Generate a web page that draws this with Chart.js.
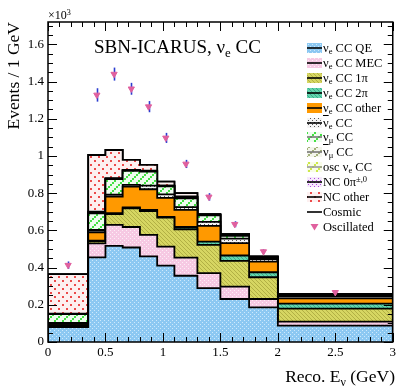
<!DOCTYPE html>
<html><head><meta charset="utf-8">
<script src="https://cdn.jsdelivr.net/npm/chart.js@4.4.0/dist/chart.umd.min.js"></script>
<style>
html,body{margin:0;padding:0;background:#fff;}
#wrap{position:relative;width:399px;height:388px;font-family:"Liberation Serif","Times New Roman",serif;color:#000;overflow:hidden;}
#c{position:absolute;left:0;top:0;}
.t{position:absolute;white-space:nowrap;line-height:1;}
.t sub{font-size:68%;position:relative;top:0.32em;vertical-align:baseline;line-height:0;}
.t sup{font-size:68%;position:relative;top:-0.45em;vertical-align:baseline;line-height:0;}
.ob{text-decoration:overline;}
.leg{font-size:12.5px;left:323px;}
</style></head>
<body><div id="wrap">
<canvas id="c" width="399" height="388"></canvas>
<div class="t" style="left:48px;top:9px;font-size:12px;">×10<sup>3</sup></div>
<div class="t" style="left:94px;top:37px;font-size:19px;">SBN-ICARUS, ν<sub>e</sub> CC</div>
<div class="t" id="ytitle" style="left:0;top:0;width:140px;text-align:right;font-size:17.5px;transform-origin:left top;transform:translate(5px,162px) rotate(-90deg);">Events / 1 GeV</div>
<div class="t" style="right:4px;top:368px;font-size:17.5px;">Reco. E<sub>ν</sub> (GeV)</div>
<div id="legend"></div>
</div>
<script>
// ---- data (events per 1 GeV, in units of 10^3) ----
const binEdges   = [0, 0.35, 0.5, 0.65, 0.8, 0.95, 1.1, 1.3, 1.5, 1.75, 2, 3];
const nueCCQE    = [0.080, 0.455, 0.517, 0.508, 0.460, 0.410, 0.356, 0.290, 0.231, 0.186, 0.088];
const nueCCMEC   = [0.005, 0.075, 0.113, 0.110, 0.116, 0.103, 0.098, 0.080, 0.067, 0.045, 0.022];
const nueCC1pi   = [0.004, 0.012, 0.057, 0.100, 0.128, 0.155, 0.152, 0.152, 0.138, 0.117, 0.069];
const nueCC2pi   = [0.001, 0.003, 0.005, 0.005, 0.006, 0.005, 0.012, 0.018, 0.029, 0.027, 0.027];
const nueCCOther = [0.008, 0.045, 0.090, 0.112, 0.111, 0.102, 0.092, 0.084, 0.066, 0.057, 0.028];
const nuebarCC   = [0.004, 0.012, 0.010, 0.010, 0.020, 0.018, 0.015, 0.022, 0.025, 0.014, 0.012];
const numuCC     = [0.048, 0.090, 0.083, 0.075, 0.075, 0.044, 0.047, 0.035, 0.015, 0.006, 0.004];
const numubarCC  = [0.001, 0.004, 0.003, 0.003, 0.003, 0.002, 0.006, 0.002, 0.004, 0.002, 0.002];
const oscNueCC   = [0.000, 0.002, 0.001, 0.001, 0.001, 0.001, 0.002, 0.001, 0.002, 0.002, 0.002];
const nc0pi      = [0.001, 0.002, 0.001, 0.001, 0.001, 0.001, 0.002, 0.001, 0.001, 0.001, 0.001];
const ncOther    = [0.213, 0.305, 0.152, 0.054, 0.031, 0.021, 0.018, 0.002, 0.002, 0.003, 0.004];
const cosmic     = [0, 0, 0, 0, 0, 0, 0, 0, 0, 0, 0];
const oscillated    = [0.413, 1.328, 1.440, 1.361, 1.265, 1.097, 0.957, 0.780, 0.633, 0.486, 0.267];
const oscillatedErr = [0.020, 0.036, 0.035, 0.032, 0.030, 0.027, 0.022, 0.020, 0.016, 0.012, 0.006];
const yTickValues = [0, 0.2, 0.4, 0.6, 0.8, 1.0, 1.2, 1.4, 1.6];
const xTickValues = [0, 0.5, 1, 1.5, 2, 2.5, 3];
const legendLabels = [
  'ν<sub>e</sub> CC QE', 'ν<sub>e</sub> CC MEC', 'ν<sub>e</sub> CC 1π', 'ν<sub>e</sub> CC 2π',
  'ν<sub>e</sub> CC other', '<span class="ob">ν</span><sub>e</sub> CC', 'ν<sub>μ</sub> CC',
  '<span class="ob">ν</span><sub>μ</sub> CC', 'osc ν<sub>e</sub> CC', 'NC 0π<sup>±,0</sup>',
  'NC other', 'Cosmic', 'Oscillated'
];

// ---- fill patterns (ROOT-like) ----
const mainCtx = document.getElementById('c').getContext('2d');
function pat(w, h, bg, fn) {
  const c = document.createElement('canvas'); c.width = w; c.height = h;
  const g = c.getContext('2d');
  g.fillStyle = bg; g.fillRect(0, 0, w, h);
  fn(g);
  return mainCtx.createPattern(c, 'repeat');
}
function px(g, col, pts, s) { g.fillStyle = col; pts.forEach(p => g.fillRect(p[0], p[1], s || 1, s || 1)); }
const diag8 = [[6,0],[4,2],[2,4],[0,6]];
const fills = [
  pat(4, 4, '#8cc8f2', g => px(g, '#cde9fc', [[0,0],[2,2]])),
  pat(4, 4, '#f6c9e3', g => px(g, '#fdeef6', [[0,0],[2,2]])),
  pat(4, 4, '#d6d662', g => px(g, '#b2b044', [[0,0],[1,1],[2,2],[3,3]])),
  pat(4, 4, '#62d4ad', g => px(g, '#3aa98a', [[0,0],[1,1],[2,2],[3,3]])),
  '#ff9900',
  pat(4, 4, '#f4f4f4', g => px(g, '#555555', [[0,0],[2,2]])),
  pat(8, 8, '#effcef', g => px(g, '#44e044', diag8, 2)),
  pat(8, 8, '#f3f5ec', g => px(g, '#a3b07a', diag8, 2)),
  pat(8, 8, '#f8fce8', g => px(g, '#cde84a', diag8, 2)),
  pat(4, 4, '#f6eafc', g => px(g, '#b048e0', [[0,0],[2,2]], 1)),
  pat(8, 8, '#fdf0f0', g => px(g, '#ec4a4a', [[6,0],[2,4]], 2)),
];
const legendLine = ['#000','#000','#000','#000','#000','#000','#777','#777','#999','#000','#000'];

// ---- build stacked datasets from the component arrays ----
const components = [nueCCQE, nueCCMEC, nueCC1pi, nueCC2pi, nueCCOther, nuebarCC,
                    numuCC, numubarCC, oscNueCC, nc0pi, ncOther, cosmic];
const nBins = binEdges.length - 1;
let cum = new Array(nBins).fill(0);
const datasets = components.map((arr, k) => {
  cum = cum.map((c, i) => c + arr[i]);
  const pts = [{x: binEdges[0], y: 0}];
  cum.forEach((c, i) => { pts.push({x: binEdges[i], y: c}); pts.push({x: binEdges[i + 1], y: c}); });
  pts.push({x: binEdges[nBins], y: 0});
  const isCosmic = k === components.length - 1;
  return {
    type: 'line', data: pts, parsing: false,
    fill: isCosmic ? false : (k === 0 ? 'origin' : '-1'),
    backgroundColor: isCosmic ? 'transparent' : fills[k],
    borderColor: '#000', borderWidth: 1.8, pointRadius: 0, tension: 0, order: 1
  };
});
const centers = binEdges.slice(0, -1).map((e, i) => (e + binEdges[i + 1]) / 2);
const OSC_INDEX = datasets.length;
datasets.push({
  type: 'line', showLine: false, parsing: false,
  data: centers.map((c, i) => ({x: c, y: oscillated[i]})),
  pointStyle: 'triangle', pointRotation: 180, pointRadius: 3.6,
  backgroundColor: '#e0609e', borderColor: '#e0609e', borderWidth: 1, order: -1
});

const fmt = v => String(Math.round(v * 100) / 100);

const decor = {
  id: 'decor',
  beforeDatasetDraw(chart, args) {
    if (args.index !== OSC_INDEX) return;
    const {ctx, scales: {x, y}} = chart;
    ctx.save(); ctx.strokeStyle = '#2b3cd0'; ctx.lineWidth = 1.6;
    centers.forEach((c, i) => {
      const xp = Math.round(x.getPixelForValue(c)) + 0.5;
      ctx.beginPath();
      ctx.moveTo(xp, y.getPixelForValue(oscillated[i] - oscillatedErr[i]));
      ctx.lineTo(xp, y.getPixelForValue(oscillated[i] + oscillatedErr[i]));
      ctx.stroke();
    });
    ctx.restore();
  },
  afterDraw(chart) {
    const {ctx, chartArea: a, scales: {x, y}} = chart;
    ctx.save();
    ctx.strokeStyle = '#000'; ctx.lineWidth = 1;
    const line = (x1, y1, x2, y2) => { ctx.beginPath(); ctx.moveTo(x1, y1); ctx.lineTo(x2, y2); ctx.stroke(); };
    for (let j = 0; j < yTickValues.length; j++) {
      for (let m = 0; m < 4; m++) {
        const v = yTickValues[j] + m * 0.05;
        if (v > y.max) continue;
        const p = Math.round(y.getPixelForValue(v)) + 0.5;
        const L = m === 0 ? 9 : 5;
        line(a.left, p, a.left + L, p); line(a.right, p, a.right - L, p);
      }
    }
    for (let j = 0; j < xTickValues.length; j++) {
      for (let m = 0; m < 5; m++) {
        const v = xTickValues[j] + m * 0.1;
        if (v > x.max + 1e-9) continue;
        const p = Math.round(x.getPixelForValue(v)) + 0.5;
        const L = m === 0 ? 9 : 5;
        line(p, a.bottom, p, a.bottom - L); line(p, a.top, p, a.top + L);
      }
    }
    ctx.lineWidth = 1.5;
    ctx.strokeRect(a.left, a.top, a.right - a.left, a.bottom - a.top);
    const x0 = 307, w = 15, h = 10;
    for (let i = 0; i < legendLabels.length; i++) {
      const cy = Math.round(48 + 14.9 * i);
      if (i < fills.length) {
        ctx.fillStyle = fills[i]; ctx.fillRect(x0, cy - h / 2, w, h);
        ctx.strokeStyle = legendLine[i]; ctx.lineWidth = 1.6; line(x0, cy, x0 + w, cy);
      } else if (i === fills.length) {
        ctx.strokeStyle = '#000'; ctx.lineWidth = 1.6; line(x0, cy, x0 + w, cy);
      } else {
        ctx.fillStyle = '#e0609e';
        ctx.beginPath(); ctx.moveTo(x0 + 3.5, cy - 3); ctx.lineTo(x0 + 11.5, cy - 3); ctx.lineTo(x0 + 7.5, cy + 3.5); ctx.closePath(); ctx.fill();
      }
    }
    ctx.restore();
  }
};

new Chart(document.getElementById('c'), {
  data: {datasets},
  options: {
    responsive: false, animation: false, devicePixelRatio: 1,
    layout: {padding: {top: 22, right: 4, left: 0, bottom: 0}},
    plugins: {legend: {display: false}, tooltip: {enabled: false}},
    scales: {
      x: {
        type: 'linear', min: 0, max: 3,
        grid: {display: false, drawTicks: false}, border: {display: false},
        afterBuildTicks: s => { s.ticks = xTickValues.map(v => ({value: v})); },
        afterFit: s => { s.height = 46; },
        ticks: {callback: fmt, color: '#000', padding: 3, maxRotation: 0, autoSkip: false,
                font: {family: 'Liberation Serif', size: 13}}
      },
      y: {
        type: 'linear', min: 0, max: 1.72,
        grid: {display: false, drawTicks: false}, border: {display: false},
        afterBuildTicks: s => { s.ticks = yTickValues.map(v => ({value: v})); },
        afterFit: s => { s.width = 48; },
        ticks: {callback: fmt, color: '#000', padding: 4, autoSkip: false,
                font: {family: 'Liberation Serif', size: 13}}
      }
    }
  },
  plugins: [decor]
});

const legDiv = document.getElementById('legend');
legendLabels.forEach((lab, i) => {
  const d = document.createElement('div');
  d.className = 't leg';
  d.style.top = (Math.round(48 + 14.9 * i) - 6.5) + 'px';
  d.innerHTML = lab;
  legDiv.appendChild(d);
});
</script>
</body></html>
